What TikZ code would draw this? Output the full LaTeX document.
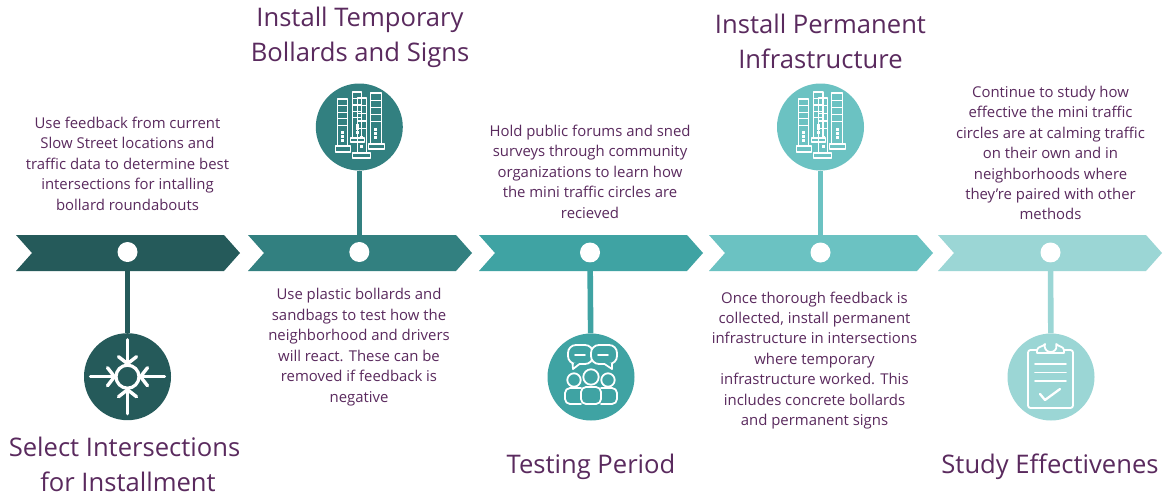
\documentclass[tikz,border=0pt]{standalone}
\usepackage{fontspec}
\setmainfont{Open Sans}
\definecolor{cA}{HTML}{255A5A}
\definecolor{cB}{HTML}{328080}
\definecolor{cC}{HTML}{3FA3A3}
\definecolor{cD}{HTML}{6BC2C2}
\definecolor{cE}{HTML}{9BD6D5}
\definecolor{txt}{HTML}{5A2A5E}
\tikzset{
  body/.style={text=txt,align=center,font=\fontsize{14.9}{20.45}\selectfont,inner sep=0pt},
  title/.style={text=txt,align=center,font=\fontsize{25.6}{34.8}\selectfont,inner sep=0pt},
  dot/.style={circle,fill=white,minimum size=20pt,inner sep=0pt},
  disc/.style={circle,minimum size=87pt,inner sep=0pt},
  stem/.style={line width=5.6pt},
  icon/.style={draw=white,line width=1.8pt,line join=round,line cap=round},
  thinicon/.style={draw=white,line width=1.25pt,line join=round},
  thickicon/.style={draw=white,line width=3.4pt,line cap=round,line join=round},
}
\newcommand{\chevron}[2]{\fill[#2] (#1,235) -- ++(208,0) -- ++(16,18) -- ++(-16,18) -- ++(-208,0) -- ++(16,-18) -- cycle;}
\newcommand{\bollard}[7]{
  \draw[thinicon] (#1,#3) rectangle (#2,#4);
  \draw[thinicon] (#5,#4) rectangle (#6,#7);
  \foreach \f in {0.14,0.28,0.42,0.56}{\draw[thinicon] (#1,{#3+\f*(#4-#3)}) -- (#2,{#3+\f*(#4-#3)});}
  \foreach \f in {0.72,0.8,0.88}{\fill[white] ({(#1+#2)/2-1.5},{#3+\f*(#4-#3)-1.4}) rectangle ++(3,2.8);}
}
\begin{document}
\begin{tikzpicture}[x=1pt,y=-1pt]
\useasboundingbox (0,0) rectangle (1166,493);
\fill[white] (0,0) rectangle (1166,493);
\chevron{16}{cA}
\chevron{248}{cB}
\chevron{479}{cC}
\chevron{709}{cD}
\chevron{938}{cE}
\node[disc,fill=cA] (disc1) at (127.5,376.7) {};
\node[disc,fill=cB] (disc2) at (359.3,127) {};
\node[disc,fill=cC] (disc3) at (591,377) {};
\node[disc,fill=cD] (disc4) at (820.5,127) {};
\node[disc,fill=cE] (disc5) at (1051,377) {};
\node[dot] (dot1) at (127.5,252) {};
\node[dot] (dot2) at (359.3,252) {};
\node[dot] (dot3) at (590,252.5) {};
\node[dot] (dot4) at (820.5,252.5) {};
\node[dot] (dot5) at (1050.5,252.5) {};
\draw[stem,cA] (dot1) -- (disc1);
\draw[stem,cB] (dot2) -- (disc2);
\draw[stem,cC] (dot3) -- (disc3);
\draw[stem,cD] (dot4) -- (disc4);
\draw[stem,cE] (dot5) -- (disc5);
% roundabout icon
\begin{scope}[shift={(disc1.center)}]
  \draw[draw=white,line width=3.2pt] (0,0) circle (11.5);
  \foreach \a in {0,90,180,270}{
    \begin{scope}[rotate=\a]
      \draw[thickicon] (0,-13) -- (0,-37);
      \draw[thickicon] (-9,-20) -- (0,-13) -- (9,-20);
    \end{scope}}
\end{scope}
% bollard icons
\foreach \d in {disc2,disc4}{
\begin{scope}[shift={(\d.center)}]
  \bollard{-22}{-12}{-28}{19}{-24}{-9}{25}
  \bollard{-7}{2.5}{-35}{11}{-9}{5}{15}
  \bollard{-2}{7}{-29}{26}{-7}{11}{31}
  \bollard{11}{22}{-34}{17}{9}{25}{22}
\end{scope}}
% people icon
\begin{scope}[shift={(disc3.center)}]
  \draw[icon,rounded corners=8pt] (-23,-32) rectangle (2,-13);
  \draw[draw=cC,line width=2.2pt] (-17.5,-13) -- (-12,-13);
  \draw[icon] (-18.5,-13.5) -- (-18,-8) -- (-11.5,-13);
  \draw[icon,fill=cC,rounded corners=8pt] (0,-32) rectangle (26,-13);
  \draw[draw=cC,line width=2.2pt] (14,-13) -- (20,-13);
  \draw[icon] (13.5,-13) -- (21,-8) -- (21,-13.5);
  \draw[icon] (-16,-22) -- (-6,-22);
  \draw[icon] (7,-22) -- (17,-22);
  \draw[icon] (-17,3) circle (6.7);
  \draw[icon] (0,0) circle (7.7);
  \draw[icon] (17,3) circle (6.7);
  \draw[icon,rounded corners=5pt] (-10,27) -- (-26,27) -- (-26,11) -- (-10,11);
  \draw[icon,rounded corners=5pt] (-10,27) -- (-10,10) -- (10,10) -- (10,27) -- cycle;
  \draw[icon,rounded corners=5pt] (10,27) -- (26,27) -- (26,11) -- (10,11);
\end{scope}
% clipboard icon
\begin{scope}[shift={(disc5.center)}]
  \draw[icon,rounded corners=2.5pt] (-14,-27) -- (-23,-27) -- (-23,31) -- (22,31) -- (22,-27) -- (13,-27);
  \draw[icon] (-14,-24) -- (-14,-27) .. controls (-13,-31) and (-8,-30) .. (-6,-33) arc (200:-20:6) .. controls (8,-30) and (12,-31) .. (13,-27) -- (13,-24) -- cycle;
  \draw[icon] (-16,-13) -- (15,-13);
  \draw[icon] (-16,-4.5) -- (15,-4.5);
  \draw[icon] (-16,4) -- (15,4);
  \draw[draw=white,line width=2.3pt,line cap=round,line join=round] (-11,17) -- (-6,23) -- (9,12);
\end{scope}
% body text
\node[body] (t1) at (127.5,163.5) {Use feedback from current\\Slow Street locations and\\traffic data to determine best\\intersections for intalling\\bollard roundabouts};
\node[body] (t2) at (359,347) {Use plastic bollards and\\sandbags to test how the\\neighborhood and drivers\\will react. These can be\\removed if feedback is\\negative};
\node[body] (t3) at (590,171.5) {Hold public forums and sned\\surveys through community\\organizations to learn how\\the mini traffic circles are\\recieved};
\node[body] (t4) at (814.5,360.5) {Once thorough feedback is\\collected, install permanent\\infrastructure in intersections\\where temporary\\infrastructure worked. This\\includes concrete bollards\\and permanent signs};
\node[body] (t5) at (1050.5,153) {Continue to study how\\effective the mini traffic\\circles are at calming traffic\\on their own and in\\neighborhoods where\\they’re paired with other\\methods};
% titles
\node[title] (h1) at (124.5,464.5) {Select Intersections\\\hspace*{7pt}for Installment};
\node[title] (h2) at (360,37) {Install Temporary\\Bollards and Signs};
\node[title] (h3) at (591,467) {Testing Period};
\node[title] (h4) at (820.5,41) {Install Permanent\\Infrastructure};
\node[title] (h5) at (1050,467) {Study Effectivenes};
\end{tikzpicture}
\end{document}
